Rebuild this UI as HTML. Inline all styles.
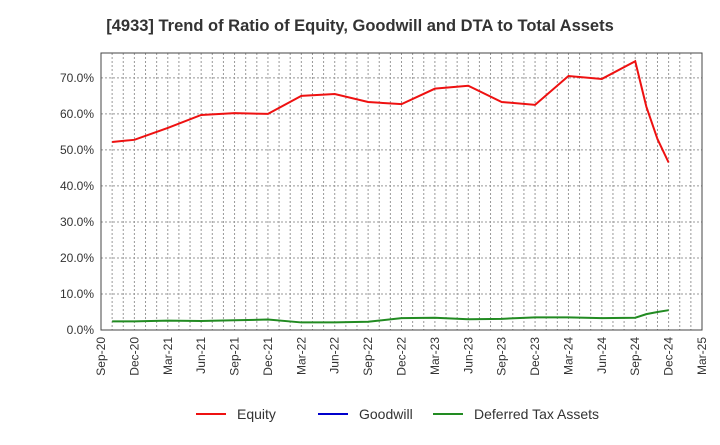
<!DOCTYPE html>
<html><head><meta charset="utf-8"><style>
body{margin:0;background:#fff;font-family:"Liberation Sans",sans-serif}
</style></head><body>
<svg id="c" width="720" height="440" xmlns="http://www.w3.org/2000/svg"></svg>
<script>
const months=[1,3,6,9,12,15,18,21,24,27,30,33,36,39,42,45,48,49,50,51];
const equity=[52.2,52.8,56.1,59.7,60.2,60.0,65.0,65.5,63.3,62.7,67.0,67.8,63.3,62.5,70.5,69.7,74.6,62.0,53.0,46.5];
const goodwill=[];
const dta=[2.4,2.4,2.6,2.5,2.7,2.9,2.1,2.1,2.3,3.3,3.4,3.0,3.1,3.5,3.5,3.3,3.4,4.4,5.0,5.5];
const xTicks=["Sep-20","Dec-20","Mar-21","Jun-21","Sep-21","Dec-21","Mar-22","Jun-22","Sep-22","Dec-22","Mar-23","Jun-23","Sep-23","Dec-23","Mar-24","Jun-24","Sep-24","Dec-24","Mar-25"];
const yTicks=[0,10,20,30,40,50,60,70];
const L=101,R=702,T=53,B=330,yMax=76.9;
const x=m=>L+(R-L)*m/54;
const y=v=>B-(B-T)*v/yMax;
const s=document.getElementById('c');const NS="http://www.w3.org/2000/svg";
function mk(t,a,txt){const e=document.createElementNS(NS,t);for(const k in a)e.setAttribute(k,a[k]);if(txt!==undefined)e.textContent=txt;s.appendChild(e);return e;}
let e=mk('text',{x:360,y:31,'text-anchor':'middle','font-size':16.5,'font-weight':'bold',fill:'#333'},'[4933]  Trend of Ratio of Equity, Goodwill and DTA to Total Assets');

for(let m=1;m<54;m++){const g=mk('line',{x1:x(m),x2:x(m),y1:T,y2:B,stroke:'#999','stroke-dasharray':'2,2','stroke-width':1});}
yTicks.forEach(v=>{if(v>0){const g=mk('line',{x1:L,x2:R,y1:y(v),y2:y(v),stroke:'#999','stroke-dasharray':'2,2'});}
const t=mk('text',{x:L-7,y:y(v)+4,'text-anchor':'end','font-size':12,fill:'#333'},v.toFixed(1)+'%');});
const fr=mk('rect',{x:L,y:T,width:R-L,height:B-T,fill:'none',stroke:'#444','stroke-width':1});

xTicks.forEach((lab,i)=>{const xx=x(i*3);const t=mk('text',{transform:`translate(${xx+4},${B+7}) rotate(-90)`,'text-anchor':'end','font-size':12,fill:'#333'},lab);});
function line(vals,col,name){if(!vals.length)return;const p=mk('polyline',{points:vals.map((v,i)=>x(months[i])+','+y(v)).join(' '),fill:'none',stroke:col,'stroke-width':2});}
line(equity,'#ee1111','equity-line');line(goodwill,'#0000cc','goodwill-line');line(dta,'#228b22','dta-line');
[['Equity','#ee1111',196],['Goodwill','#0000cc',318],['Deferred Tax Assets','#228b22',433]].forEach(([n,c,lx])=>{
const g=mk('line',{x1:lx,x2:lx+30,y1:414,y2:414,stroke:c,'stroke-width':2});
const t=mk('text',{x:lx+41,y:419,'font-size':14,fill:'#333'},n);});
</script>
</body></html>
